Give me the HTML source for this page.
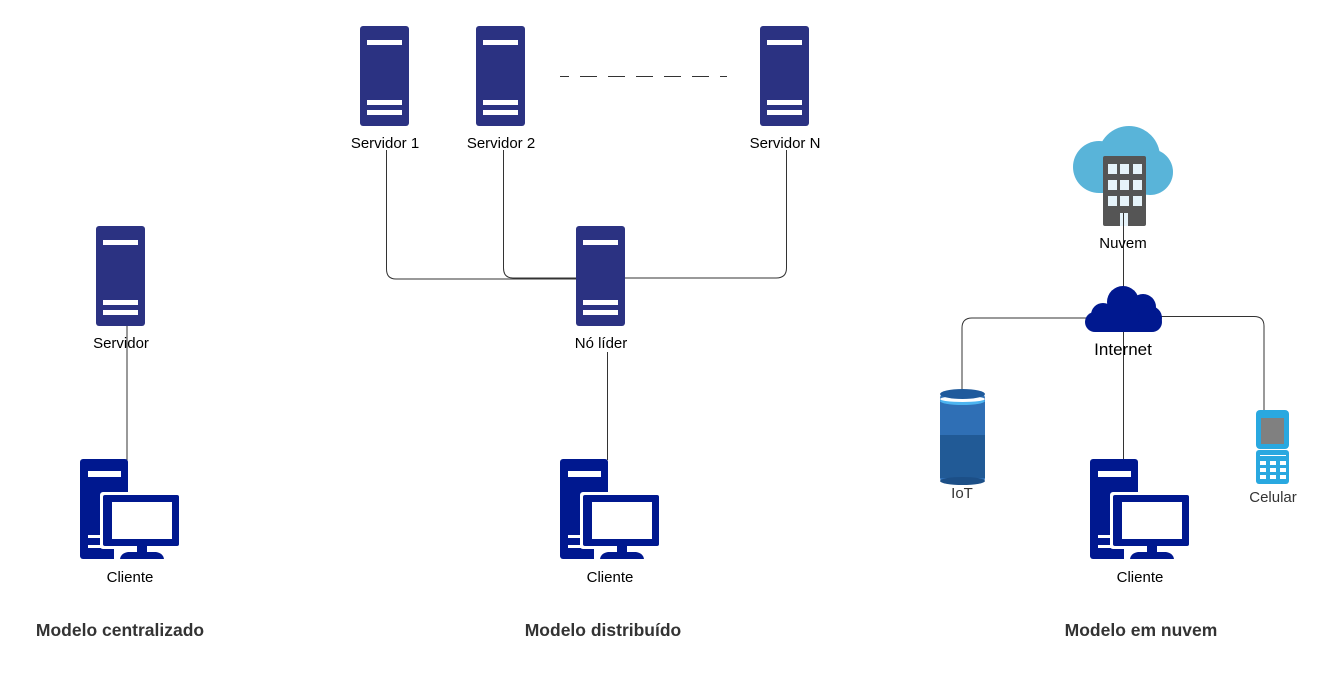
<!DOCTYPE html>
<html><head><meta charset="utf-8"><style>
html,body{margin:0;padding:0;background:#fff}
svg{display:block}
text{font-family:"Liberation Sans",Arial,sans-serif}
</style></head><body>
<svg width="1342" height="682" viewBox="0 0 1342 682" xmlns="http://www.w3.org/2000/svg">
<defs>
<g id="srv">
<rect x="0" y="0" width="49" height="100" rx="3" fill="#2b3282"/>
<rect x="7" y="14" width="35" height="5" fill="#fff"/>
<rect x="7" y="74" width="35" height="5" fill="#fff"/>
<rect x="7" y="84" width="35" height="5" fill="#fff"/>
</g>
<g id="cli">
<rect x="0" y="0" width="48" height="100" rx="3" fill="#00188f"/>
<rect x="8" y="12" width="33" height="6" fill="#fff"/>
<rect x="8" y="76" width="16" height="3" fill="#fff"/>
<rect x="8" y="86" width="16" height="3" fill="#fff"/>
<rect x="20" y="33" width="82" height="57" rx="3" fill="#fff"/>
<rect x="34" y="88" width="56" height="12" fill="#fff"/>
<rect x="23" y="36" width="76" height="51" rx="2" fill="#00188f"/>
<rect x="32" y="43" width="60" height="37" fill="#fff"/>
<rect x="57" y="86" width="10" height="8" fill="#00188f"/>
<path d="M40 100 Q41 94 48 93 L76 93 Q83 94 84 100 Z" fill="#00188f"/>
</g>
</defs>
<g fill="none" stroke="#333" stroke-width="1">
<line x1="127" y1="326" x2="127" y2="460"/>
<path d="M386.5 150 V269 Q386.5 279 396 279 H577"/>
<path d="M503.5 150 V268 Q503.5 278 513 278 H577"/>
<path d="M786.5 150 V268 Q786.5 278 776 278 H625"/>
<line x1="607.5" y1="352" x2="607.5" y2="460"/>
<line x1="560" y1="76.5" x2="727" y2="76.5" stroke-dasharray="9,11,17,11,17,11,17,11,17,11,17,11,17,11" stroke="#333"/>
<line x1="1123.5" y1="215" x2="1123.5" y2="290"/>
<line x1="1123.5" y1="332" x2="1123.5" y2="460"/>
<path d="M1090 318 H972 Q962 318 962 328 V390"/>
<path d="M1160 316.5 H1254 Q1264 316.5 1264 326 V411"/>
</g>
<use href="#srv" x="96" y="226"/>
<use href="#srv" x="360" y="26"/>
<use href="#srv" x="476" y="26"/>
<use href="#srv" x="760" y="26"/>
<use href="#srv" x="576" y="226"/>
<use href="#cli" x="80" y="459"/>
<use href="#cli" x="560" y="459"/>
<use href="#cli" x="1090" y="459"/>
<g fill="#59b4d9">
<circle cx="1129" cy="157" r="31"/>
<circle cx="1099" cy="167" r="26"/>
<circle cx="1150" cy="172" r="23"/>
<rect x="1099" y="160" width="52" height="33"/>
</g>
<rect x="1103" y="156" width="43" height="70" rx="2" fill="#555"/>
<g fill="#e6f3fa">
<rect x="1108" y="164" width="9" height="10"/><rect x="1120" y="164" width="9" height="10"/><rect x="1133" y="164" width="9" height="10"/>
<rect x="1108" y="180" width="9" height="10"/><rect x="1120" y="180" width="9" height="10"/><rect x="1133" y="180" width="9" height="10"/>
<rect x="1108" y="196" width="9" height="10"/><rect x="1120" y="196" width="9" height="10"/><rect x="1133" y="196" width="9" height="10"/>
<rect x="1120" y="213" width="8" height="13"/>
</g>
<line x1="1123.5" y1="213" x2="1123.5" y2="226" stroke="#333"/>
<g fill="#00188f">
<circle cx="1123" cy="302" r="16"/>
<circle cx="1143" cy="307" r="13"/>
<circle cx="1103" cy="315" r="12"/>
<rect x="1085" y="312" width="77" height="20" rx="10"/>
<circle cx="1150" cy="318" r="12"/>
</g>
<rect x="940" y="393" width="45" height="90" rx="5" fill="#2f6fb5"/>
<rect x="940" y="435" width="45" height="43" fill="#215a96"/>
<ellipse cx="962.5" cy="481" rx="22.5" ry="4" fill="#1c4f87"/>
<ellipse cx="962.5" cy="401" rx="22.5" ry="4" fill="#4cb4f0"/>
<ellipse cx="962.5" cy="399" rx="22.5" ry="3" fill="#fff"/>
<ellipse cx="962.5" cy="394" rx="22.5" ry="5" fill="#1f5a9c"/>
<rect x="1256" y="410" width="33" height="39" rx="4" fill="#29a8e0"/>
<rect x="1261" y="418" width="23" height="26" fill="#808080"/>
<rect x="1256" y="450" width="33" height="34" rx="3" fill="#29a8e0"/>
<g fill="#fff">
<rect x="1260" y="461" width="6" height="4"/><rect x="1270" y="461" width="6" height="4"/><rect x="1280" y="461" width="6" height="4"/>
<rect x="1260" y="468" width="6" height="4"/><rect x="1270" y="468" width="6" height="4"/><rect x="1280" y="468" width="6" height="4"/>
<rect x="1260" y="475" width="6" height="4"/><rect x="1270" y="475" width="6" height="4"/><rect x="1280" y="475" width="6" height="4"/>
<rect x="1260" y="455" width="26" height="1"/>
</g>
<g font-size="15" fill="#000" text-anchor="middle">
<text x="121" y="348">Servidor</text>
<text x="385" y="148">Servidor 1</text>
<text x="501" y="148">Servidor 2</text>
<text x="785" y="148">Servidor N</text>
<text x="601" y="348">Nó líder</text>
<text x="130" y="582">Cliente</text>
<text x="610" y="582">Cliente</text>
<text x="1140" y="582">Cliente</text>
<text x="1123" y="248">Nuvem</text>
<text x="1123" y="355" font-size="17">Internet</text>
<text x="962" y="498" fill="#333">IoT</text>
<text x="1273" y="502" fill="#333">Celular</text>
</g>
<g font-size="17.5" font-weight="bold" fill="#333" text-anchor="middle">
<text x="120" y="636">Modelo centralizado</text>
<text x="603" y="636">Modelo distribuído</text>
<text x="1141" y="636">Modelo em nuvem</text>
</g>
</svg>
</body></html>
